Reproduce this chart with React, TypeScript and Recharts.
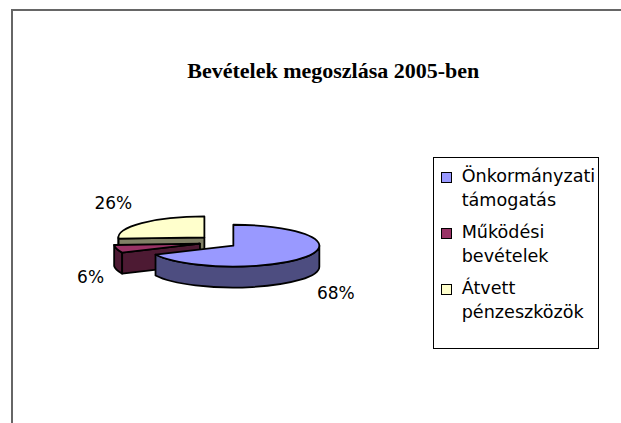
import React from "react";
import { PieChart, Pie, Cell, Legend } from "recharts";

// slices in drawing order (back to front), going counter-clockwise from 12 o'clock
const categories = ["Átvett pénzeszközök", "Működési bevételek", "Önkormányzati támogatás"];
const shares = [26, 6, 68];
const legendOrder = ["Önkormányzati támogatás", "Működési bevételek", "Átvett pénzeszközök"];
const topColors = ["#FFFFCC", "#993366", "#9999FF"];
const sideColors = ["#808066", "#4D1A33", "#4D4D80"];

const data = categories.map((name, i) => ({ name, value: shares[i], side: sideColors[i] }));

const RAD = Math.PI / 180;
const TILT = 0.243; // vertical squash of the pie disc
const DEPTH = 21; // thickness of the 3d disc
const EXPLODE = 18.4;
const EXPLODE_TILT = 0.37;
const FONT = "'DejaVu Sans', sans-serif";
const EDGE = 1.8;

const apexOf = (cx: number, cy: number, mid: number) => [
  cx + EXPLODE * Math.cos(mid * RAD),
  cy - EXPLODE * EXPLODE_TILT * Math.sin(mid * RAD),
];

const Slice3D = (props: any) => {
  const { cx, cy, outerRadius: r, startAngle, endAngle, midAngle, fill } = props;
  const side = props.side ?? props.payload?.side ?? "#555";
  const s = Math.min(startAngle, endAngle);
  const e = Math.max(startAngle, endAngle);
  const [ax, ay] = apexOf(cx, cy, midAngle);
  const ry = r * TILT;
  const pt = (a: number, dy = 0) => `${ax + r * Math.cos(a * RAD)},${ay - ry * Math.sin(a * RAD) + dy}`;

  const parts: React.ReactNode[] = [];
  // outer rim, only the front half is visible
  for (let k = 0; k < 2; k++) {
    const lo = Math.max(s, 180 + 360 * k);
    const hi = Math.min(e, 360 + 360 * k);
    if (hi > lo) {
      const large = hi - lo > 180 ? 1 : 0;
      parts.push(
        <path
          key={`rim${k}`}
          d={`M${pt(lo)} A${r},${ry} 0 ${large} 0 ${pt(hi)} L${pt(hi, DEPTH)} A${r},${ry} 0 ${large} 1 ${pt(lo, DEPTH)} Z`}
          fill={side}
          stroke="#000"
          strokeWidth={EDGE}
          strokeLinejoin="round"
        />
      );
    }
  }
  // radial walls facing the viewer
  if (Math.cos(s * RAD) > 0.001) {
    parts.push(
      <path key="ws" d={`M${ax},${ay} L${pt(s)} L${pt(s, DEPTH)} L${ax},${ay + DEPTH} Z`} fill={side} stroke="#000" strokeWidth={EDGE} strokeLinejoin="round" />
    );
  }
  if (Math.cos(e * RAD) < -0.001) {
    parts.push(
      <path key="we" d={`M${ax},${ay} L${pt(e)} L${pt(e, DEPTH)} L${ax},${ay + DEPTH} Z`} fill={side} stroke="#000" strokeWidth={EDGE} strokeLinejoin="round" />
    );
  }
  const large = e - s > 180 ? 1 : 0;
  parts.push(
    <path
      key="top"
      d={`M${ax},${ay} L${pt(s)} A${r},${ry} 0 ${large} 0 ${pt(e)} Z`}
      fill={fill}
      stroke="#000"
      strokeWidth={EDGE}
      strokeLinejoin="round"
    />
  );
  return <g>{parts}</g>;
};

const renderLabel = (props: any) => {
  const { cx, cy, midAngle, percent, outerRadius } = props;
  const [ax, ay] = apexOf(cx, cy, midAngle);
  const c = Math.cos(midAngle * RAD);
  const sn = Math.sin(midAngle * RAD);
  const x = ax + (outerRadius + 13) * c;
  const y = ay - (outerRadius * TILT + 29) * sn + (sn < 0 ? DEPTH : 0) + 6;
  return (
    <text x={x} y={y} textAnchor={c < 0 ? "end" : "start"} fill="#000" fontFamily={FONT} fontSize={17}>
      {`${Math.round(percent * 100)}%`}
    </text>
  );
};

const renderLegend = () => (
  <div
    style={{
      position: "relative",
      width: 166,
      height: 192,
      boxSizing: "border-box",
      border: "1px solid #000",
      background: "#fff",
      fontFamily: FONT,
      fontSize: 17.6,
      color: "#000",
    }}
  >
    {legendOrder.map((name, i) => {
      const idx = categories.indexOf(name);
      return (
        <React.Fragment key={name}>
          <div
            style={{
              position: "absolute",
              left: 6.7,
              top: 14 + 56 * i,
              width: 11,
              height: 11,
              boxSizing: "border-box",
              border: "1px solid #000",
              background: topColors[idx],
            }}
          />
          <div style={{ position: "absolute", left: 27.7, top: 5.5 + 56 * i, lineHeight: "24px", whiteSpace: "nowrap" }}>
            {name.split(" ").map((w) => (
              <div key={w}>{w}</div>
            ))}
          </div>
        </React.Fragment>
      );
    })}
  </div>
);

export default function App() {
  return (
    <div style={{ position: "absolute", left: 0, top: 0, width: 621, height: 423, overflow: "hidden", background: "#fff" }}>
      <div
        style={{
          position: "absolute",
          left: 11,
          top: 9,
          width: 700,
          height: 500,
          borderTop: "2px solid #666",
          borderLeft: "2px solid #666",
        }}
      />
      <PieChart width={621} height={423} margin={{ top: 0, right: 0, bottom: 0, left: 0 }}>
        <text
          x={333.3}
          y={78.3}
          textAnchor="middle"
          fontFamily="'Liberation Serif', 'Times New Roman', serif"
          fontWeight="bold"
          fontSize={22}
          fill="#000"
        >
          Bevételek megoszlása 2005-ben
        </text>
        <Pie
          data={data}
          dataKey="value"
          nameKey="name"
          cx={217.8}
          cy={242}
          outerRadius={86}
          startAngle={90}
          endAngle={450}
          shape={Slice3D}
          label={renderLabel}
          labelLine={false}
          isAnimationActive={false}
        >
          {data.map((d, i) => (
            <Cell key={d.name} fill={topColors[i]} />
          ))}
        </Pie>
        <Legend
          layout="vertical"
          align="right"
          verticalAlign="top"
          content={renderLegend}
          wrapperStyle={{ left: 433, top: 157, width: 166, height: 192 }}
        />
      </PieChart>
    </div>
  );
}
